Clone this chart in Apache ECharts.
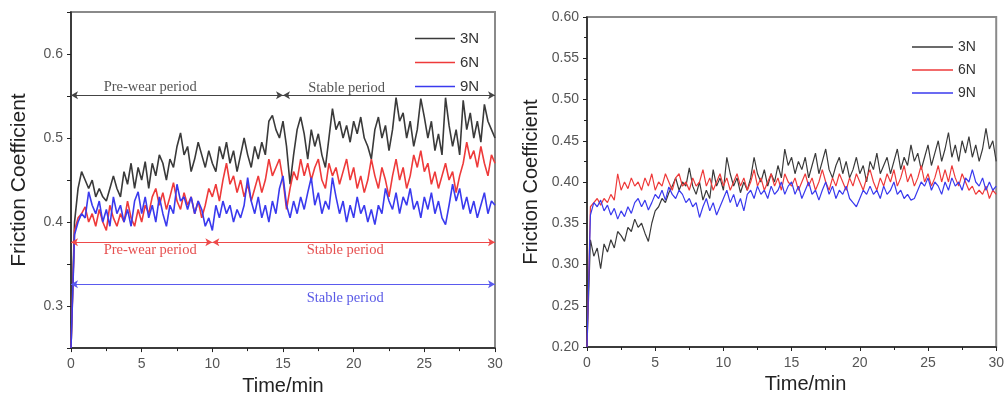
<!DOCTYPE html>
<html>
<head>
<meta charset="utf-8">
<title>Friction coefficient vs time</title>
<script src="https://cdn.jsdelivr.net/npm/echarts@6/dist/echarts.min.js"></script>
<style>
  html, body { margin: 0; padding: 0; background: #fff; }
  #chart { width: 1007px; height: 401px; }
</style>
</head>
<body>
<div id="chart"></div>
<script>
// Sampling interval of the friction records, minutes
const SAMPLE_STEP = 0.25;

const loadNames = ['3N', '6N', '9N'];
const loadColors = ['#3a3a3a', '#ee3a3a', '#3a3aee'];

// Left panel: friction coefficient under 3N / 6N / 9N
const leftLoad3N = [
  0.25,0.40,0.44,0.46,0.45,0.44,0.45,0.43,0.44,0.43,
  0.425,0.44,0.455,0.44,0.43,0.46,0.445,0.47,0.44,0.465,
  0.45,0.472,0.44,0.47,0.455,0.48,0.47,0.45,0.475,0.465,
  0.49,0.506,0.48,0.49,0.46,0.475,0.495,0.48,0.465,0.485,
  0.47,0.46,0.49,0.475,0.495,0.47,0.485,0.46,0.48,0.50,
  0.48,0.465,0.49,0.475,0.495,0.48,0.52,0.527,0.51,0.50,
  0.52,0.49,0.445,0.48,0.51,0.525,0.505,0.475,0.51,0.49,
  0.505,0.48,0.465,0.50,0.535,0.51,0.52,0.50,0.515,0.495,
  0.52,0.505,0.525,0.50,0.49,0.475,0.51,0.525,0.50,0.515,
  0.485,0.51,0.548,0.52,0.53,0.50,0.52,0.49,0.51,0.547,
  0.525,0.50,0.52,0.485,0.505,0.48,0.548,0.515,0.49,0.51,
  0.48,0.545,0.51,0.53,0.50,0.52,0.495,0.54,0.52,0.51,
  0.50
];
const leftLoad6N = [
  0.25,0.39,0.405,0.41,0.418,0.40,0.41,0.395,0.415,0.40,
  0.39,0.42,0.405,0.395,0.41,0.40,0.425,0.405,0.395,0.415,
  0.40,0.42,0.41,0.43,0.44,0.42,0.435,0.415,0.43,0.447,
  0.425,0.415,0.435,0.42,0.43,0.41,0.425,0.405,0.42,0.44,
  0.43,0.445,0.425,0.45,0.47,0.445,0.455,0.435,0.45,0.43,
  0.445,0.425,0.44,0.455,0.435,0.45,0.475,0.455,0.465,0.475,
  0.45,0.415,0.44,0.46,0.45,0.475,0.455,0.47,0.45,0.465,
  0.475,0.45,0.44,0.47,0.455,0.465,0.445,0.46,0.475,0.45,
  0.465,0.44,0.455,0.435,0.45,0.475,0.455,0.44,0.465,0.45,
  0.43,0.455,0.475,0.45,0.465,0.44,0.455,0.48,0.465,0.485,
  0.46,0.47,0.445,0.46,0.44,0.455,0.47,0.45,0.46,0.435,
  0.455,0.47,0.495,0.475,0.485,0.465,0.49,0.47,0.455,0.48,
  0.47
];
const leftLoad9N = [
  0.25,0.385,0.40,0.41,0.405,0.436,0.42,0.41,0.425,0.40,
  0.415,0.395,0.43,0.41,0.42,0.40,0.415,0.395,0.425,0.436,
  0.41,0.43,0.405,0.42,0.40,0.43,0.41,0.395,0.42,0.41,
  0.445,0.425,0.43,0.415,0.43,0.41,0.425,0.415,0.395,0.405,
  0.39,0.42,0.405,0.425,0.41,0.42,0.40,0.415,0.405,0.42,
  0.453,0.425,0.41,0.43,0.405,0.42,0.40,0.425,0.41,0.44,
  0.455,0.42,0.405,0.425,0.41,0.43,0.415,0.435,0.453,0.42,
  0.435,0.41,0.425,0.415,0.453,0.43,0.41,0.425,0.40,0.42,
  0.405,0.43,0.41,0.42,0.40,0.415,0.397,0.42,0.41,0.44,
  0.425,0.415,0.435,0.41,0.43,0.42,0.44,0.415,0.425,0.405,
  0.43,0.415,0.435,0.41,0.425,0.405,0.397,0.42,0.445,0.425,
  0.44,0.415,0.43,0.41,0.425,0.405,0.42,0.435,0.41,0.425,
  0.42
];

// Right panel: friction coefficient under 3N / 6N / 9N
const rightLoad3N = [
  0.20,0.33,0.31,0.32,0.295,0.325,0.315,0.33,0.32,0.34,
  0.335,0.328,0.345,0.34,0.355,0.345,0.35,0.338,0.328,0.35,
  0.365,0.37,0.38,0.375,0.387,0.395,0.405,0.39,0.40,0.395,
  0.417,0.395,0.385,0.40,0.378,0.39,0.38,0.415,0.395,0.405,
  0.39,0.43,0.41,0.395,0.405,0.387,0.40,0.39,0.405,0.43,
  0.41,0.40,0.415,0.395,0.41,0.40,0.42,0.405,0.44,0.42,
  0.43,0.41,0.425,0.415,0.43,0.405,0.42,0.435,0.41,0.425,
  0.44,0.415,0.405,0.42,0.43,0.41,0.425,0.405,0.415,0.43,
  0.41,0.42,0.40,0.425,0.415,0.435,0.41,0.42,0.43,0.41,
  0.425,0.44,0.415,0.43,0.42,0.445,0.425,0.435,0.415,0.43,
  0.445,0.42,0.435,0.45,0.425,0.44,0.46,0.43,0.445,0.425,
  0.45,0.435,0.455,0.43,0.445,0.425,0.44,0.465,0.44,0.45,
  0.425
];
const rightLoad6N = [
  0.20,0.37,0.375,0.38,0.372,0.38,0.375,0.385,0.378,0.41,
  0.39,0.40,0.392,0.405,0.395,0.40,0.39,0.405,0.395,0.41,
  0.39,0.40,0.395,0.41,0.40,0.39,0.405,0.41,0.395,0.40,
  0.39,0.405,0.395,0.40,0.415,0.395,0.405,0.39,0.40,0.41,
  0.395,0.405,0.39,0.40,0.41,0.395,0.405,0.39,0.40,0.415,
  0.395,0.405,0.39,0.40,0.41,0.395,0.405,0.39,0.41,0.40,
  0.395,0.405,0.39,0.40,0.41,0.395,0.405,0.39,0.40,0.415,
  0.40,0.39,0.405,0.395,0.41,0.40,0.39,0.405,0.395,0.41,
  0.40,0.39,0.405,0.415,0.40,0.39,0.405,0.395,0.41,0.40,
  0.415,0.395,0.405,0.42,0.40,0.41,0.395,0.405,0.42,0.40,
  0.41,0.395,0.405,0.42,0.40,0.415,0.40,0.42,0.405,0.395,
  0.41,0.40,0.39,0.395,0.385,0.39,0.385,0.395,0.38,0.39,
  0.385
];
const rightLoad9N = [
  0.20,0.36,0.375,0.37,0.378,0.365,0.372,0.36,0.368,0.355,
  0.365,0.358,0.37,0.362,0.375,0.38,0.37,0.378,0.366,0.375,
  0.385,0.38,0.39,0.378,0.394,0.385,0.38,0.39,0.385,0.375,
  0.38,0.37,0.375,0.357,0.37,0.38,0.365,0.375,0.36,0.37,
  0.38,0.39,0.375,0.385,0.37,0.38,0.365,0.385,0.39,0.38,
  0.395,0.385,0.39,0.38,0.395,0.385,0.39,0.40,0.385,0.395,
  0.40,0.385,0.395,0.38,0.39,0.40,0.385,0.39,0.378,0.39,
  0.40,0.385,0.395,0.38,0.39,0.385,0.395,0.38,0.375,0.37,
  0.38,0.39,0.385,0.395,0.385,0.39,0.38,0.395,0.385,0.39,
  0.40,0.385,0.39,0.38,0.385,0.378,0.38,0.39,0.40,0.395,
  0.405,0.39,0.40,0.395,0.385,0.40,0.39,0.405,0.395,0.40,
  0.39,0.405,0.40,0.415,0.40,0.395,0.405,0.39,0.40,0.39,
  0.395
];

// Wear-stage annotations on the left panel: [start min, end min, level]
const stageArrows3N = [[0, 15, 0.551], [15, 30, 0.551]];
const stageArrows6N = [[0, 10, 0.376], [10, 30, 0.376]];
const stageArrows9N = [[0, 30, 0.326]];
// Stage captions: [text, centre min, level]
const stageText3N = [['Pre-wear period', 5.6, 0.5605], ['Stable period', 19.5, 0.5595]];
const stageText6N = [['Pre-wear period', 5.6, 0.366], ['Stable period', 19.4, 0.366]];
const stageText9N = [['Stable period', 19.4, 0.3095]];

const toPairs = values => values.map((v, i) => [i * SAMPLE_STEP, v]);

const SANS = '"Liberation Sans", Arial, sans-serif';
const SERIF = '"Liberation Serif", "Times New Roman", serif';

function arrowMark(segments, color) {
  return {
    silent: true,
    symbol: ['arrow', 'arrow'],
    symbolSize: [6, 7],
    label: { show: false },
    lineStyle: { color: color, width: 1, type: 'solid' },
    emphasis: { disabled: true },
    data: segments.map(s => [{ coord: [s[0], s[2]] }, { coord: [s[1], s[2]] }])
  };
}

function captionMark(captions, color) {
  return {
    silent: true,
    symbol: 'circle',
    symbolSize: 0,
    itemStyle: { color: 'transparent' },
    label: {
      show: true, position: 'inside', formatter: '{b}',
      color: color, fontFamily: SERIF, fontSize: 14.5
    },
    data: captions.map(c => ({ name: c[0], coord: [c[1], c[2]] }))
  };
}

function xAxisCfg(gridIndex, namePad) {
  return {
    type: 'value', gridIndex: gridIndex, min: 0, max: 30, interval: 5,
    name: 'Time/min', nameLocation: 'middle', nameGap: 26,
    nameTextStyle: { fontFamily: SANS, fontSize: 20, color: '#222', padding: namePad },
    axisLine: { show: true, onZero: false, lineStyle: { color: '#222', width: 1.5 } },
    axisTick: { show: true, inside: false, length: 4, lineStyle: { color: '#222' } },
    minorTick: { show: true, splitNumber: 2, length: 3, lineStyle: { color: '#222' } },
    axisLabel: { fontFamily: SANS, fontSize: 14, color: '#555', margin: 9 },
    splitLine: { show: false }
  };
}

function lineSeries(name, color, values, axisIndex, width, extra) {
  return Object.assign({
    type: 'line', name: name,
    xAxisIndex: axisIndex, yAxisIndex: axisIndex,
    data: toPairs(values),
    showSymbol: false, symbol: 'none',
    lineStyle: { color: color, width: width },
    itemStyle: { color: color },
    emphasis: { disabled: true }
  }, extra || {});
}

const legendCommon = {
  orient: 'vertical', icon: 'rect', itemWidth: 40, itemHeight: 1.5,
  itemGap: 9, data: loadNames,
  textStyle: { fontFamily: SANS, fontSize: 15, color: '#333' }
};

const option = {
  animation: false,
  backgroundColor: '#ffffff',
  grid: [
    { left: 71, top: 12, width: 424, height: 337, show: true,
      borderColor: '#8a8a8a', borderWidth: 2, containLabel: false },
    { left: 587, top: 17, width: 411, height: 330, show: true,
      borderColor: '#8a8a8a', borderWidth: 2, containLabel: false }
  ],
  legend: [
    Object.assign({}, legendCommon, { left: 410, top: 26 }),
    Object.assign({}, legendCommon, { left: 907, top: 35, itemWidth: 41,
      textStyle: { fontFamily: SANS, fontSize: 14, color: '#333' } })
  ],
  xAxis: [xAxisCfg(0, [0, 0, 0, 0]), xAxisCfg(1, [0, 0, 0, 28])],
  yAxis: [
    {
      type: 'value', gridIndex: 0, min: 0.25, max: 0.65, interval: 0.05,
      name: 'Friction Coefficient', nameLocation: 'middle', nameGap: 41,
      nameTextStyle: { fontFamily: SANS, fontSize: 21, color: '#222' },
      axisLine: { show: true, onZero: false, lineStyle: { color: '#222', width: 1.5 } },
      axisTick: { show: true, length: 4, lineStyle: { color: '#222' } },
      axisLabel: {
        fontFamily: SANS, fontSize: 14, color: '#555', margin: 8,
        formatter: v => (Math.round(v * 100) % 10 === 0 ? v.toFixed(1) : '')
      },
      splitLine: { show: false }
    },
    {
      type: 'value', gridIndex: 1, min: 0.2, max: 0.6, interval: 0.05,
      name: 'Friction Coefficient', nameLocation: 'middle', nameGap: 46,
      nameTextStyle: { fontFamily: SANS, fontSize: 20, color: '#222' },
      axisLine: { show: true, onZero: false, lineStyle: { color: '#222', width: 1.5 } },
      axisTick: { show: true, length: 4, lineStyle: { color: '#222' } },
      minorTick: { show: true, splitNumber: 2, length: 3, lineStyle: { color: '#222' } },
      axisLabel: {
        fontFamily: SANS, fontSize: 14, color: '#555', margin: 8,
        formatter: v => v.toFixed(2)
      },
      splitLine: { show: false }
    }
  ],
  series: [
    lineSeries('3N', loadColors[0], leftLoad3N, 0, 1.6, {
      markLine: arrowMark(stageArrows3N, '#444'),
      markPoint: captionMark(stageText3N, '#555')
    }),
    lineSeries('6N', loadColors[1], leftLoad6N, 0, 1.6, {
      markLine: arrowMark(stageArrows6N, '#ee4a4a'),
      markPoint: captionMark(stageText6N, '#e65050')
    }),
    lineSeries('9N', loadColors[2], leftLoad9N, 0, 1.6, {
      markLine: arrowMark(stageArrows9N, '#5a5aee'),
      markPoint: captionMark(stageText9N, '#5a5ae6')
    }),
    lineSeries('3N', loadColors[0], rightLoad3N, 1, 1.2),
    lineSeries('6N', loadColors[1], rightLoad6N, 1, 1.2),
    lineSeries('9N', loadColors[2], rightLoad9N, 1, 1.2)
  ]
};

const chart = echarts.init(document.getElementById('chart'), null, { renderer: 'canvas' });
chart.setOption(option);
</script>
</body>
</html>
